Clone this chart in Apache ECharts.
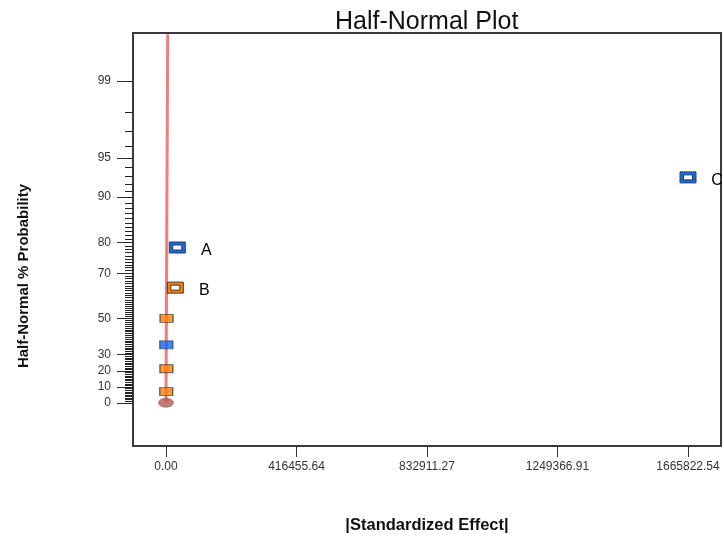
<!DOCTYPE html>
<html>
<head>
<meta charset="utf-8">
<script src="https://cdn.jsdelivr.net/npm/echarts@6/dist/echarts.min.js"></script>
<style>html,body{margin:0;padding:0;background:#fff;}#chart{width:724px;height:536px;}</style>
</head>
<body>
<div id="chart"></div>
<script>
// ---- data ----
const smallEffectX = [800, 1300, 1000, 1700];
const smallEffectProb = [7.14, 21.43, 35.71, 50.0];
const smallEffectSign = ['pos', 'pos', 'neg', 'pos'];

const namedEffectNames = ['B', 'A', 'C'];
const namedEffectX = [29700, 36060, 1665822.54];
const namedEffectProb = [64.29, 78.57, 92.86];
const namedEffectSign = ['pos', 'neg', 'neg'];

const errorX = [0];
const errorProb = [0];

const fitLineX = [0, 5400];
const fitLineProb = [0, 99.68];

const yMajorTicks = [0, 10, 20, 30, 50, 70, 80, 90, 95, 99];
const yMinorTicks = Array.from({length: 100}, (_, i) => i); // every percent 0..99
const xTickValues = [0, 416455.64, 832911.27, 1249366.91, 1665822.54];

// ---- half-normal probability transform ----
function invNorm(p) {
  const a=[-3.969683028665376e+01,2.209460984245205e+02,-2.759285104469687e+02,1.383577518672690e+02,-3.066479806614716e+01,2.506628277459239e+00];
  const b=[-5.447609879822406e+01,1.615858368580409e+02,-1.556989798598866e+02,6.680131188771972e+01,-1.328068155288572e+01];
  const c=[-7.784894002430293e-03,-3.223964580411365e-01,-2.400758277161838e+00,-2.549732539343734e+00,4.374664141464968e+00,2.938163982698783e+00];
  const d=[7.784695709041462e-03,3.224671290700398e-01,2.445134137142996e+00,3.754408661907416e+00];
  const pl = 0.02425, ph = 1 - pl;
  let q, r;
  if (p < pl) { q = Math.sqrt(-2*Math.log(p)); return (((((c[0]*q+c[1])*q+c[2])*q+c[3])*q+c[4])*q+c[5])/((((d[0]*q+d[1])*q+d[2])*q+d[3])*q+1); }
  if (p <= ph) { q = p - 0.5; r = q*q; return (((((a[0]*r+a[1])*r+a[2])*r+a[3])*r+a[4])*r+a[5])*q/(((((b[0]*r+b[1])*r+b[2])*r+b[3])*r+b[4])*r+1); }
  q = Math.sqrt(-2*Math.log(1-p)); return -(((((c[0]*q+c[1])*q+c[2])*q+c[3])*q+c[4])*q+c[5])/((((d[0]*q+d[1])*q+d[2])*q+d[3])*q+1);
}
const hz = pct => invNorm(0.5 + pct / 200);

const COLORS = { pos: '#FF8000', neg: '#0A6CF0' };
const FONT = 'Arial, "Liberation Sans", sans-serif';

const yMajorZ = yMajorTicks.map(hz);
const yMinorZ = yMinorTicks.map(hz);
function yLabel(v) {
  let best = 0, bd = Infinity;
  yMajorZ.forEach((z, i) => { const dd = Math.abs(z - v); if (dd < bd) { bd = dd; best = i; } });
  return String(yMajorTicks[best]);
}

const chart = echarts.init(document.getElementById('chart'), null, {renderer: 'canvas'});
chart.setOption({
  animation: false,
  backgroundColor: '#fff',
  title: {
    text: 'Half-Normal Plot',
    left: 335, top: 10, padding: 0,
    textStyle: { fontFamily: FONT, fontSize: 25, fontWeight: 'normal', color: '#111' }
  },
  grid: {
    left: 133, top: 33, right: 3, bottom: 90,
    outerBoundsMode: 'none', containLabel: false,
    show: true, borderColor: '#3a3a3a', borderWidth: 2, backgroundColor: 'transparent'
  },
  xAxis: {
    type: 'value', min: -105310, max: 1771133,
    name: '|Standardized Effect|', nameLocation: 'middle', nameGap: 71,
    nameTextStyle: { fontFamily: FONT, fontSize: 16.5, fontWeight: 'bold', color: '#111' },
    axisLine: { show: false, onZero: false },
    splitLine: { show: false },
    axisTick: { show: true, inside: false, length: 11, customValues: xTickValues, lineStyle: { color: '#333', width: 1 } },
    axisLabel: { customValues: xTickValues, margin: 15, fontFamily: FONT, fontSize: 12, color: '#333',
                 formatter: v => v.toFixed(2) }
  },
  yAxis: [{
    type: 'value', min: -0.346, max: 2.958,
    name: 'Half-Normal % Probability', nameLocation: 'middle', nameGap: 102, nameRotate: 90,
    nameTextStyle: { fontFamily: FONT, fontSize: 15, fontWeight: 'bold', color: '#111', padding: [0, 73, 0, 0] },
    axisLine: { show: false, onZero: false },
    splitLine: { show: false },
    axisTick: { show: true, inside: false, length: 16, customValues: yMajorZ, lineStyle: { color: '#333', width: 1 } },
    axisLabel: { customValues: yMajorZ, margin: 22, fontFamily: FONT, fontSize: 12, color: '#333', formatter: yLabel }
  }, {
    type: 'value', min: -0.346, max: 2.958, position: 'left',
    axisLine: { show: false, onZero: false }, splitLine: { show: false }, axisLabel: { show: false },
    axisTick: { show: true, inside: false, length: 8, customValues: yMinorZ, lineStyle: { color: '#222', width: 1 } }
  }],
  series: [
    {
      type: 'line', name: 'fit', silent: true, symbol: 'none',
      data: fitLineX.map((x, i) => [x, hz(fitLineProb[i])]),
      lineStyle: { color: '#F47C7C', width: 3 }, z: 1
    },
    {
      type: 'scatter', name: 'error',
      data: errorX.map((x, i) => [x, hz(errorProb[i])]),
      symbol: 'circle', symbolSize: [15, 9],
      itemStyle: { color: '#B85A55', borderColor: '#7a3a36', borderWidth: 0.5 }, z: 3
    },
    {
      type: 'scatter', name: 'small effects',
      data: smallEffectX.map((x, i) => ({ value: [x, hz(smallEffectProb[i])],
        itemStyle: { color: COLORS[smallEffectSign[i]] } })),
      symbol: 'rect', symbolSize: [13, 8],
      itemStyle: { borderColor: '#3a3a3a', borderWidth: 1 }, z: 3
    },
    {
      type: 'custom', name: 'named effects',
      data: namedEffectX.map((x, i) => [x, hz(namedEffectProb[i])]),
      renderItem: function (params, api) {
        const p = api.coord([api.value(0), api.value(1)]);
        const i = params.dataIndex;
        const col = COLORS[namedEffectSign[i]];
        return {
          type: 'group',
          children: [
            { type: 'rect', shape: { x: p[0] - 8, y: p[1] - 5.5, width: 16, height: 11 },
              style: { fill: col, stroke: '#3a3a3a', lineWidth: 1 } },
            { type: 'rect', shape: { x: p[0] - 4.5, y: p[1] - 2.5, width: 9, height: 5 },
              style: { fill: '#fff', stroke: '#3a3a3a', lineWidth: 1 } },
            { type: 'text', x: p[0] + 29, y: p[1] + 3,
              style: { text: namedEffectNames[i], fill: '#000', font: '16px ' + FONT,
                       align: 'center', verticalAlign: 'middle' } }
          ]
        };
      },
      z: 4
    }
  ]
});
</script>
</body>
</html>
